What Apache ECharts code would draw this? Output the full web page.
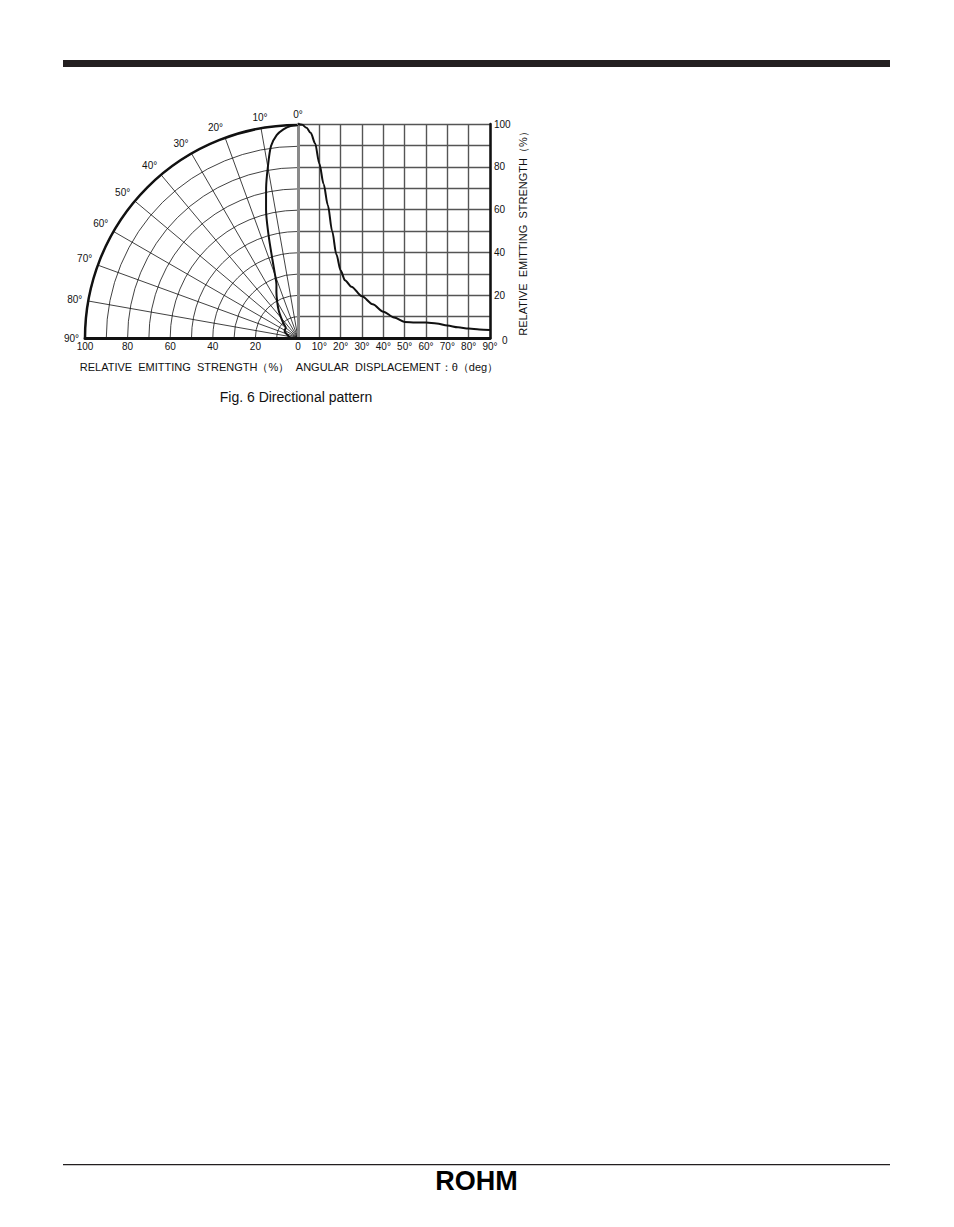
<!DOCTYPE html>
<html>
<head>
<meta charset="utf-8">
<script src="https://cdn.jsdelivr.net/npm/echarts@6.0.0/dist/echarts.min.js"></script>
<style>
html,body{margin:0;padding:0;background:#fff;}
#chart{width:954px;height:1227px;}
</style>
</head>
<body>
<div id="chart"></div>
<script>
// Directional pattern data: angular displacement (deg) vs relative emitting strength (%)
const angles   = [0, 2, 4, 6, 8, 10, 12, 14, 16, 18, 20, 22, 25, 30, 35, 40, 45, 50, 55, 60, 65, 70, 75, 80, 85, 90];
const strength = [100, 99.6, 98.2, 95.8, 91, 81.5, 72, 62, 50, 39, 31.5, 27, 24, 19.5, 15.8, 12.3, 9.6, 7.5, 7.3, 7.2, 6.8, 5.8, 5.0, 4.4, 4.0, 3.7];
const strengthTicks = [0, 20, 40, 60, 80, 100];
const angleTicks = [0, 10, 20, 30, 40, 50, 60, 70, 80, 90];
const strengthTitle = 'RELATIVE  EMITTING  STRENGTH（%）';
const angleTitle = 'ANGULAR  DISPLACEMENT：θ（deg）';
const caption = 'Fig. 6 Directional pattern';
const brand = 'ROHM';

const FONT = "'Liberation Sans', Arial, Helvetica, sans-serif";
const chart = echarts.init(document.getElementById('chart'), null, {renderer: 'svg'});

const polarData = angles.map((a, i) => [strength[i], a]);
const cartData = angles.map((a, i) => [a, strength[i]]);

chart.setOption({
  backgroundColor: '#fff',
  animation: false,
  textStyle: {fontFamily: FONT},
  polar: {center: [298, 338], radius: 213},
  angleAxis: {
    type: 'value', min: 0, max: 90, interval: 10,
    startAngle: 90, endAngle: 180, clockwise: false,
    axisLine: {show: true, lineStyle: {color: '#111', width: 2.5}},
    axisTick: {show: false},
    axisLabel: {show: true, margin: 6, color: '#111', fontSize: 10, fontFamily: FONT,
      formatter: v => v + '°'},
    splitLine: {show: true, lineStyle: {color: '#111', width: 0.8}}
  },
  radiusAxis: {
    type: 'value', min: 0, max: 100, interval: 10,
    axisLine: {show: false}, axisTick: {show: false}, axisLabel: {show: false},
    splitLine: {show: true, lineStyle: {color: '#111', width: 0.8}}
  },
  grid: [
    {left: 85, top: 124, width: 213, height: 214},
    {left: 298, top: 124, width: 192, height: 214}
  ],
  xAxis: [
    {
      gridIndex: 0, type: 'value', min: 0, max: 100, interval: 20, inverse: true,
      axisLine: {show: true, onZero: false, lineStyle: {color: '#111', width: 3}},
      axisTick: {show: false}, splitLine: {show: false},
      axisLabel: {margin: 3, color: '#111', fontSize: 10, fontFamily: FONT,
        formatter: v => (v === 0 ? '' : String(v))},
      name: strengthTitle, nameLocation: 'middle', nameGap: 23,
      nameTextStyle: {color: '#111', fontSize: 11, fontFamily: FONT, padding: [0, 14, 0, 0]}
    },
    {
      gridIndex: 1, type: 'value', min: 0, max: 90, interval: 10,
      axisLine: {show: true, onZero: false, lineStyle: {color: '#111', width: 3}},
      axisTick: {show: false},
      splitLine: {show: true, lineStyle: {color: '#555', width: 1.4}},
      axisLabel: {margin: 3, color: '#111', fontSize: 10, fontFamily: FONT,
        formatter: v => (v === 0 ? '0' : v + '°')},
      name: angleTitle, nameLocation: 'middle', nameGap: 23,
      nameTextStyle: {color: '#111', fontSize: 11, fontFamily: FONT, padding: [0, 0, 0, 6]}
    }
  ],
  yAxis: [
    {gridIndex: 0, type: 'value', min: 0, max: 100, show: false},
    {
      gridIndex: 1, type: 'value', min: 0, max: 100, interval: 10, position: 'right',
      axisLine: {show: true, onZero: false, lineStyle: {color: '#111', width: 2.5}},
      axisTick: {show: false},
      splitLine: {show: true, lineStyle: {color: '#555', width: 1.4}},
      axisLabel: {margin: 4, color: '#111', fontSize: 10, fontFamily: FONT,
        formatter: v => (v === 0 ? '{z|0}' : (strengthTicks.indexOf(v) >= 0 ? String(v) : '')),
        rich: {z: {fontSize: 10, fontFamily: FONT, color: '#111', padding: [4, 0, 0, 8]}}},
      name: strengthTitle, nameLocation: 'middle', nameGap: 27, nameRotate: 90,
      nameTextStyle: {color: '#111', fontSize: 11, fontFamily: FONT}
    },
    {
      gridIndex: 1, type: 'value', min: 0, max: 100, position: 'left',
      axisLine: {show: true, onZero: false, lineStyle: {color: '#8a8a8a', width: 3}},
      axisTick: {show: false}, axisLabel: {show: false}, splitLine: {show: false}
    }
  ],
  series: [
    {
      type: 'line', coordinateSystem: 'polar', data: polarData,
      showSymbol: false, smooth: 0.3,
      lineStyle: {color: '#111', width: 2}, z: 5
    },
    {
      type: 'line', xAxisIndex: 1, yAxisIndex: 1, data: cartData,
      showSymbol: false, smooth: 0.3, smoothMonotone: 'x',
      lineStyle: {color: '#111', width: 2}, z: 5
    }
  ],
  graphic: [
    {type: 'rect', shape: {x: 63, y: 60, width: 827, height: 7}, style: {fill: '#231f20'}},
    {type: 'rect', shape: {x: 63, y: 1164, width: 827, height: 1.2}, style: {fill: '#231f20'}},
    {type: 'text', x: 296, y: 397, style: {text: caption, fontSize: 14, fontFamily: FONT,
      fill: '#111', textAlign: 'center', textVerticalAlign: 'middle'}},
    {type: 'text', x: 476.5, y: 1181, style: {text: brand, fontSize: 27, fontWeight: 900,
      fontFamily: FONT, fill: '#000', textAlign: 'center', textVerticalAlign: 'middle'}}
  ]
});
</script>
</body>
</html>
